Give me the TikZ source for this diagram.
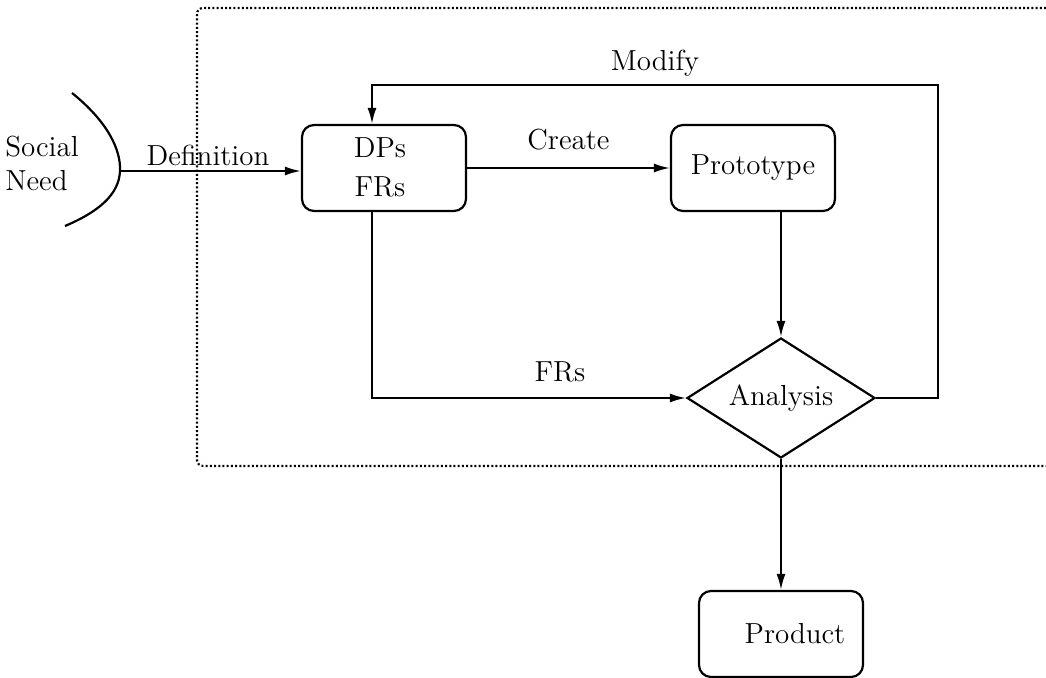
\documentclass[tikz,border=0pt]{standalone}
\usepackage{amsmath}
\usepackage{tikz}
\usetikzlibrary{positioning,shapes.geometric,arrows.meta}

\begin{document}
\begin{tikzpicture}[x=0.5pt, y=-0.5pt, font=\fontsize{14.5}{17}\selectfont,
	blk/.style= {draw, rounded corners=6pt, line width=1.1pt, minimum width=82pt, minimum height=43pt, inner sep=0pt},
	dec/.style= {draw, diamond, aspect=1.56, line width=1.1pt, minimum width=94pt, minimum height=60pt, inner sep=0pt},
	arr/.style= {line width=1pt, -{Latex[length=8pt, width=4.5pt]}},
	lbl/.style= {inner sep=0pt}]
		\useasboundingbox (0,0) rectangle (1046,678);

		% dotted frame, open to the right
		\draw[line width=1.1pt, dash pattern=on 1pt off 1.1pt, rounded corners=3pt] (1046,8) -- (197,8) -- (197,466) -- (1046,466);

		\node[blk] (dps) at (384,168) {};
		\node[lbl] (dp) at (380,148) {DPs};
		\node[lbl] (fr) at (380,187) {FRs};
		\node[blk] (proto) at (753,168) {Prototype};
		\node[dec] (ana) at (781,398) {Analysis};
		\node[blk] (prod) at (781,634) {\hspace{14pt}Product};

		\node[lbl, align=left] (soc) at (42,163) {Social\\Need};
		\node[lbl] (def) at (208,155) {Definition};
		\node[lbl] (mod) at (655,63) {Modify};
		\node[lbl] (frs) at (560,372) {FRs};

		\coordinate (sn) at (120,171);
		\coordinate (mr) at (938,85);

		\draw[line width=1.1pt] (72,93) .. controls (108,122) and (121,150) .. (sn) .. controls (119,195) and (98,212) .. (65,226);

		\draw[arr] (sn) -- (sn -| dps.west);
		\draw[arr] (dps.east) -- (proto.west) node[midway, above=5pt] (cre) {Create};
		\draw[arr] (ana.north |- proto.south) -- (ana.north);
		\draw[arr] ([xshift=-6pt]dps.south) |- (ana.west);
		\draw[arr] (ana.east) -| (mr) -| ([xshift=-6pt]dps.north);
		\draw[arr] (ana.south) -- (prod.north);
\end{tikzpicture}
\end{document}
